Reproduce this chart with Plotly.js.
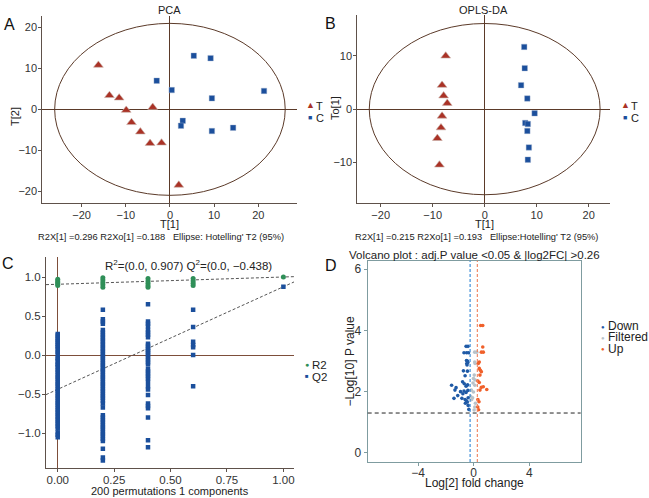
<!DOCTYPE html>
<html>
<head>
<meta charset="utf-8">
<script src="https://cdn.plot.ly/plotly-3.0.1.min.js"></script>
<style>html,body{margin:0;padding:0;background:#fff;}#chart{width:649px;height:498px;}</style>
</head>
<body>
<div id="chart"></div>
<script>
// ---------- Panel A: PCA scores ----------
const pcaT_x = [-16.2, -13.7, -11.5, -9.9, -8.7, -6.7, -4.5, -1.9, -3.9, 2.0];
const pcaT_y = [10.8, 3.4, 2.8, -0.2, -3.2, -5.5, -8.3, -8.2, 0.5, -18.5];
const pcaC_x = [5.4, 9.2, -3.0, 0.4, 9.5, 21.3, 2.9, 2.5, 9.5, 14.3];
const pcaC_y = [13.1, 12.5, 7.0, 4.7, 2.7, 4.5, -2.8, -4.0, -5.3, -4.5];
const pcaEllipse = [26.1, 21.0];          // semi-axes (T[1], T[2])
const pcaTicks = [-20, -10, 0, 10, 20];

// ---------- Panel B: OPLS-DA scores ----------
const oplsT_x = [-7.5, -8.2, -7.9, -7.2, -8.2, -8.4, -9.1, -8.7];
const oplsT_y = [10.0, 4.5, 2.5, 1.1, -1.3, -3.5, -5.5, -10.5];
const oplsC_x = [7.6, 7.7, 7.0, 8.2, 9.6, 7.8, 8.3, 8.2, 8.5, 8.3];
const oplsC_y = [11.7, 7.7, 4.5, 2.0, -0.8, -2.6, -2.8, -4.1, -7.2, -9.5];
const oplsEllipse = [22.2, 16.1];
const oplsXTicks = [-20, -10, 0, 10, 20];
const oplsYTicks = [-10, 0, 10];

// ---------- Panel C: permutation test ----------
const permCorr = [0, 0.2, 0.4, 0.6, 1.0];
const q2At0 = [0.27, 0.25, 0.22, 0.2, 0.17, 0.15, 0.12, 0.1, 0.07, 0.04, 0.01, -0.03, -0.05, -0.08, -0.11, -0.13, -0.16, -0.19, -0.22, -0.25, -0.28, -0.31, -0.34, -0.37, -0.4, -0.43, -0.46, -0.49, -0.52, -0.55, -0.58, -0.61, -0.64, -0.67, -0.7, -0.73, -0.76, -0.79, -0.82, -0.85, -0.88, -0.91, -0.94, -0.99, -1.02, -1.05];
const q2At02 = [0.58, 0.46, 0.43, 0.4, 0.32, 0.29, 0.26, 0.23, 0.2, 0.17, 0.14, 0.11, 0.08, 0.05, 0.02, -0.01, -0.04, -0.07, -0.1, -0.13, -0.16, -0.19, -0.22, -0.25, -0.28, -0.31, -0.34, -0.37, -0.4, -0.43, -0.46, -0.49, -0.52, -0.55, -0.58, -0.62, -0.67, -0.77, -0.8, -0.83, -0.86, -0.89, -0.92, -0.95, -0.98, -1.01, -1.04, -1.07, -1.1, -1.2, -1.31, -1.35];
const q2At04 = [0.65, 0.43, 0.4, 0.37, 0.32, 0.29, 0.26, 0.23, 0.145, 0.12, 0.09, 0.07, 0.05, 0.02, 0.0, -0.03, -0.06, -0.09, -0.12, -0.18, -0.21, -0.24, -0.27, -0.3, -0.34, -0.4, -0.44, -0.51, -0.62, -0.65, -0.68, -0.8, -1.09, -1.18];
const q2At06 = [0.58, 0.36, 0.17, 0.13, 0.1, 0.0, -0.4];
const q2At1 = [0.875];
const r2At0 = [0.97, 0.95, 0.93, 0.91, 0.89];
const r2At02 = [0.99, 0.96, 0.93, 0.9, 0.87];
const r2At04 = [0.98, 0.95, 0.92, 0.89, 0.87];
const r2At06 = [0.98, 0.95, 0.92, 0.89];
const r2At1 = [1.0];
const r2Intercept = 0.907, q2Intercept = -0.438;
const permXTicks = [0, 0.25, 0.5, 0.75, 1.0];
const permYTicks = [-1.0, -0.5, 0.0, 0.5, 1.0];

// ---------- Panel D: volcano ----------
const downX = [-0.55, -0.41, -0.70, -0.51, -0.37, -0.52, -0.45, -0.50, -0.42, -0.48, -0.74, -0.45, -0.62, -1.59, -1.27, -1.35, -0.80, -0.68, -0.55, -0.44, -0.70, -0.55, -0.42, -0.78, -1.42, -1.15, -0.85, -0.62, -0.52, -0.40, -0.46, -0.40, -0.95, -0.60, -0.35];
const downY = [3.48, 3.48, 3.27, 3.27, 3.27, 3.02, 3.0, 2.92, 2.95, 2.87, 2.68, 2.67, 2.52, 2.21, 2.13, 2.05, 2.32, 2.26, 2.18, 2.22, 2.02, 1.97, 2.04, 1.93, 1.78, 1.87, 1.78, 1.74, 1.70, 1.80, 1.66, 1.55, 2.0, 1.62, 1.42];
const filtX = [0.07, 0.22, 0.07, 0.1, 0.04, -0.02, 0.1, -0.05, 0.08, -0.17, -0.02, -0.22, -0.08, -0.15, 0.08, 0.03, 0.12];
const filtY = [3.29, 3.29, 2.97, 2.92, 2.54, 2.43, 2.38, 2.28, 2.21, 2.05, 1.99, 1.85, 1.80, 1.74, 1.50, 1.40, 1.62];
const upX = [0.50, 0.65, 0.65, 0.55, 0.69, 0.40, 0.33, 0.40, 0.48, 0.55, 0.45, 0.30, 0.40, 0.55, 0.45, 0.94, 0.69, 0.30, 0.38, 0.29, 0.35];
const upY = [4.16, 4.16, 3.46, 3.29, 3.29, 2.97, 2.92, 2.76, 2.70, 2.65, 2.54, 2.35, 2.30, 2.14, 2.05, 2.07, 2.16, 1.74, 1.67, 1.50, 1.41];
const fcCut = 0.26, pCut = 0.05;
const volXTicks = [-4, 0, 4];
const volYTicks = [0, 2, 4, 6];

// ---------- styles ----------
const FONT = "Liberation Sans, Arial, Helvetica, sans-serif";
const RED = "#aa3226", BLUE = "#1b4f9c", GREEN = "#2f8f58", BROWN = "#5b3a29";
const AXC = "#5e514a";
const W = 649, H = 498;
const px = v => v / W, py = v => 1 - v / H;

const xA = [-28.9, 28.7], yA = [-22.8, 22.8];
const xB = [-24.5, 24.1], yB = [-17.6, 17.7];
const xC = [-0.052, 1.047], yC = [-1.449, 1.256];
const xD = [-7.63, 7.7], yD = [-0.3, 6.28];

function concatX(vals, arrs) { let out = []; arrs.forEach((a, i) => a.forEach(() => out.push(vals[i]))); return out; }

const triMarker = {symbol: 'triangle-up', size: 8.5, color: RED, line: {color: '#c9b3ab', width: 0.6}};
const sqMarker = {symbol: 'square', size: 5.5, color: BLUE, line: {color: '#9fb0cc', width: 0.4}};

const q2Arrays = [q2At0, q2At02, q2At04, q2At06, q2At1];
const r2Arrays = [r2At0, r2At02, r2At04, r2At06, r2At1];
const r2Real = r2At1[0], q2Real = q2At1[0];
const lineX = [xC[0], xC[1]];

const traces = [
  {x: pcaT_x, y: pcaT_y, xaxis: 'x', yaxis: 'y', mode: 'markers', marker: triMarker, hoverinfo: 'none'},
  {x: pcaC_x, y: pcaC_y, xaxis: 'x', yaxis: 'y', mode: 'markers', marker: sqMarker, hoverinfo: 'none'},
  {x: oplsT_x, y: oplsT_y, xaxis: 'x2', yaxis: 'y2', mode: 'markers', marker: triMarker},
  {x: oplsC_x, y: oplsC_y, xaxis: 'x2', yaxis: 'y2', mode: 'markers', marker: sqMarker},
  {x: lineX, y: lineX.map(v => r2Intercept + (r2Real - r2Intercept) * v), xaxis: 'x3', yaxis: 'y3', mode: 'lines', line: {color: '#555', width: 1, dash: '3px,2px'}},
  {x: lineX, y: lineX.map(v => q2Intercept + (q2Real - q2Intercept) * v), xaxis: 'x3', yaxis: 'y3', mode: 'lines', line: {color: '#555', width: 1, dash: '3px,2px'}},
  {x: concatX(permCorr, q2Arrays), y: [].concat(...q2Arrays), xaxis: 'x3', yaxis: 'y3', mode: 'markers', marker: {symbol: 'square', size: 4.5, color: BLUE}},
  {x: concatX(permCorr, r2Arrays), y: [].concat(...r2Arrays), xaxis: 'x3', yaxis: 'y3', mode: 'markers', marker: {symbol: 'circle', size: 5, color: GREEN}},
  {x: filtX, y: filtY, xaxis: 'x4', yaxis: 'y4', mode: 'markers', marker: {size: 3.6, color: '#b9c3ca'}},
  {x: downX, y: downY, xaxis: 'x4', yaxis: 'y4', mode: 'markers', marker: {size: 3.6, color: '#1f5aa6'}},
  {x: upX, y: upY, xaxis: 'x4', yaxis: 'y4', mode: 'markers', marker: {size: 3.6, color: '#f0602a'}}
];

const baseAx = {
  showline: true, linecolor: AXC, linewidth: 1, mirror: false,
  ticks: 'outside', ticklen: 3, tickcolor: AXC, tickwidth: 1,
  showgrid: false, zeroline: true, zerolinecolor: BROWN, zerolinewidth: 1,
  tickfont: {family: FONT, size: 11, color: '#333'}, fixedrange: true
};
const dAx = Object.assign({}, baseAx, {mirror: true, linecolor: '#7f9ca0', tickcolor: '#7f9ca0', zeroline: false,
  tickfont: {family: FONT, size: 12, color: '#333'}});

const ann = (text, x, y, size, opts) => Object.assign({text, x: px(x), y: py(y), xref: 'paper', yref: 'paper',
  showarrow: false, font: {family: FONT, size, color: '#222'}, xanchor: 'center', yanchor: 'middle'}, opts || {});

const annotations = [
  ann('A', 9, 25, 16, {font: {family: FONT, size: 16, color: '#111'}}),
  ann('B', 330, 23, 16, {font: {family: FONT, size: 16, color: '#111'}}),
  ann('C', 8, 263, 16, {font: {family: FONT, size: 16, color: '#111'}}),
  ann('D', 331, 265, 16, {font: {family: FONT, size: 16, color: '#111'}}),
  ann('PCA', 169, 10, 11),
  ann('OPLS-DA', 483, 10, 11),
  ann('T[1]', 169, 224, 11),
  ann('T[2]', 15, 117, 11, {textangle: -90}),
  ann('T[1]', 484, 224, 11),
  ann('To[1]', 335, 108, 11, {textangle: -90}),
  ann("R2X[1] =0.296 R2Xo[1] =0.188 &nbsp;&nbsp;Ellipse: Hotelling' T2 (95%)", 160.5, 237, 9.3),
  ann("R2X[1] =0.215 R2Xo[1] =0.193 &nbsp;&nbsp;Ellipse:Hotelling' T2 (95%)", 476, 237.5, 9.3),
  ann('R<sup>2</sup>=(0.0, 0.907) Q<sup>2</sup>=(0.0, −0.438)', 188, 265, 11.5),
  ann('200 permutations 1 components', 170, 491, 11),
  ann('Volcano plot : adj.P value &lt;0.05 &amp; |log2FC| &gt;0.26', 474, 255, 11.5),
  ann('−Log[10] P value', 349.5, 361, 12, {textangle: -90}),
  ann('Log[2] fold change', 474, 483, 12),
  // legends
  ann('<span style="color:' + RED + '">▲</span>', 310, 105, 9),
  ann('T', 313.5, 106, 11, {xanchor: 'left'}),
  ann('<span style="color:' + BLUE + '">■</span>', 310, 117, 7),
  ann('C', 313.5, 118, 11, {xanchor: 'left'}),
  ann('<span style="color:' + RED + '">▲</span>', 625, 105, 9),
  ann('T', 628.5, 106, 11, {xanchor: 'left'}),
  ann('<span style="color:' + BLUE + '">■</span>', 625, 117, 7),
  ann('C', 628.5, 118, 11, {xanchor: 'left'}),
  ann('<span style="color:' + GREEN + '">●</span>', 307, 364, 7),
  ann('R2', 310, 364.5, 11.5, {xanchor: 'left'}),
  ann('<span style="color:' + BLUE + '">■</span>', 307, 376, 6),
  ann('Q2', 310, 376.5, 11.5, {xanchor: 'left'}),
  ann('<span style="color:#1f5aa6">●</span>', 603, 326.5, 6),
  ann('Down', 605.5, 326, 12, {xanchor: 'left'}),
  ann('<span style="color:#b9c3ca">●</span>', 603, 337.5, 6),
  ann('Filtered', 605.5, 337, 12, {xanchor: 'left'}),
  ann('<span style="color:#f0602a">●</span>', 603, 349, 6),
  ann('Up', 605.5, 348.5, 12, {xanchor: 'left'})
];

const shapes = [
  {type: 'circle', xref: 'x', yref: 'y', x0: -pcaEllipse[0], x1: pcaEllipse[0], y0: -pcaEllipse[1], y1: pcaEllipse[1], line: {color: BROWN, width: 1}},
  {type: 'circle', xref: 'x2', yref: 'y2', x0: -oplsEllipse[0], x1: oplsEllipse[0], y0: -oplsEllipse[1], y1: oplsEllipse[1], line: {color: BROWN, width: 1}},
  {type: 'line', xref: 'x4', yref: 'y4 domain', x0: -fcCut, x1: -fcCut, y0: 0, y1: 1, line: {color: '#2f86d6', width: 1.1, dash: '3px,2px'}},
  {type: 'line', xref: 'x4', yref: 'y4 domain', x0: fcCut, x1: fcCut, y0: 0, y1: 1, line: {color: '#f0805a', width: 1.1, dash: '3px,2px'}},
  {type: 'line', xref: 'x4 domain', yref: 'y4', x0: 0, x1: 1, y0: -Math.log10(pCut), y1: -Math.log10(pCut), line: {color: '#222', width: 1, dash: '4px,3px'}}
];

const layout = {
  width: W, height: H, margin: {l: 0, r: 0, t: 0, b: 0}, paper_bgcolor: '#fff', plot_bgcolor: '#fff',
  showlegend: false, font: {family: FONT},
  xaxis: Object.assign({}, baseAx, {domain: [px(42.3), px(296.7)], range: xA, tickvals: pcaTicks, anchor: 'y', ticklabelstandoff: -1}),
  yaxis: Object.assign({}, baseAx, {domain: [py(202.7), py(16)], range: yA, tickvals: pcaTicks, anchor: 'x', ticklabelstandoff: -1}),
  xaxis2: Object.assign({}, baseAx, {domain: [px(357.3), px(610)], range: xB, tickvals: oplsXTicks, anchor: 'y2', ticklabelstandoff: -1}),
  yaxis2: Object.assign({}, baseAx, {domain: [py(202.7), py(15)], range: yB, tickvals: oplsYTicks, anchor: 'x2', ticklabelstandoff: -1}),
  xaxis3: Object.assign({}, baseAx, {domain: [px(46), px(294)], range: xC, tickvals: permXTicks, tickformat: '.2f', anchor: 'y3', zerolinecolor: '#7d4e3a', tickfont: {family: FONT, size: 11.5, color: '#333'}, ticklabelstandoff: -2}),
  yaxis3: Object.assign({}, baseAx, {domain: [py(468.3), py(257)], range: yC, tickvals: permYTicks, tickformat: '.1f', anchor: 'x3', zerolinecolor: '#7d4e3a', tickfont: {family: FONT, size: 11.5, color: '#333'}, ticklabelstandoff: -1}),
  xaxis4: Object.assign({}, dAx, {domain: [px(367.7), px(580.7)], range: xD, tickvals: volXTicks, anchor: 'y4', ticklabelstandoff: -3}),
  yaxis4: Object.assign({}, dAx, {domain: [py(462), py(260.7)], range: yD, tickvals: volYTicks, anchor: 'x4', ticklabelstandoff: 0}),
  annotations, shapes
};

Plotly.newPlot('chart', traces, layout, {staticPlot: true, displayModeBar: false});
</script>
</body>
</html>
